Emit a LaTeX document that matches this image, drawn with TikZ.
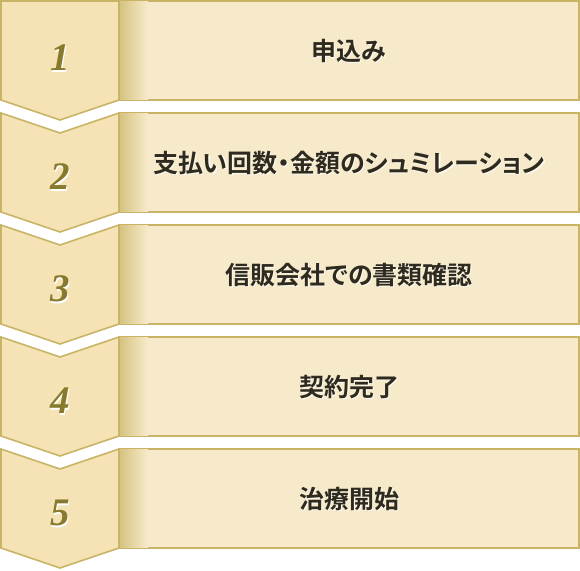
\documentclass[tikz,border=0pt]{standalone}
\usepackage{fontspec}
\newfontfamily\jp{Noto Sans CJK JP}[BoldFont={Noto Sans CJK JP Bold},RawFeature=+palt]
\newfontfamily\numfont{Liberation Serif}
\definecolor{boxfill}{HTML}{F7EACA}
\definecolor{chevfill}{HTML}{F5E3B6}
\definecolor{gold}{HTML}{C9B466}
\definecolor{shade}{HTML}{D6C482}
\definecolor{numcol}{HTML}{877A2C}
\definecolor{txtcol}{HTML}{2E2A1E}
\tikzset{
  boxstyle/.style={fill=boxfill,draw=gold,line width=1.6pt},
  chevstyle/.style={fill=chevfill,draw=gold,line width=1.6pt,line join=miter},
  numstyle/.style={font=\numfont\bfseries\itshape\fontsize{39}{39}\selectfont,text=numcol,inner sep=0pt},
  numshadow/.style={font=\numfont\bfseries\itshape\fontsize{39}{39}\selectfont,text=white,inner sep=0pt},
  txtstyle/.style={font=\jp\bfseries\fontsize{25}{26}\selectfont,text=txtcol,inner sep=0pt},
  txtshadow/.style={font=\jp\bfseries\fontsize{25}{26}\selectfont,text=white,opacity=0.8,inner sep=0pt},
}
\begin{document}
\begin{tikzpicture}[x=1pt,y=-1pt]
\useasboundingbox (0,0) rectangle (580,570);
\foreach \i/\txt in {1/申込み,2/支払い回数・金額のシュミレーション,3/信販会社での書類確認,4/契約完了,5/治療開始}{
  \pgfmathsetmacro{\T}{1+112*(\i-1)}
  % right box
  \draw[boxstyle] (119,\T) rectangle (579,\T+99);
  \shade[left color=shade,right color=boxfill] (120,\T+0.8) rectangle (148,\T+98.2);
  \coordinate (c\i) at (349,\T+50);
  \node[txtshadow] at ([shift={(1.2,1.2)}]c\i) {\txt};
  \node[txtstyle] (t\i) at (c\i) {\txt};
  % chevron
  \ifnum\i=1
    \draw[chevstyle] (1,\T) -- (119,\T) -- (119,\T+99) -- (60,\T+119) -- (1,\T+99) -- cycle;
    \coordinate (n\i) at (60,\T+57);
  \else
    \draw[chevstyle] (1,\T) -- (60,\T+20) -- (119,\T) -- (119,\T+99) -- (60,\T+119) -- (1,\T+99) -- cycle;
    \coordinate (n\i) at (60,\T+64);
  \fi
  \node[numshadow] at ([shift={(1.5,1.5)}]n\i) {\i};
  \node[numstyle] (k\i) at (n\i) {\i};
}
\end{tikzpicture}
\end{document}
